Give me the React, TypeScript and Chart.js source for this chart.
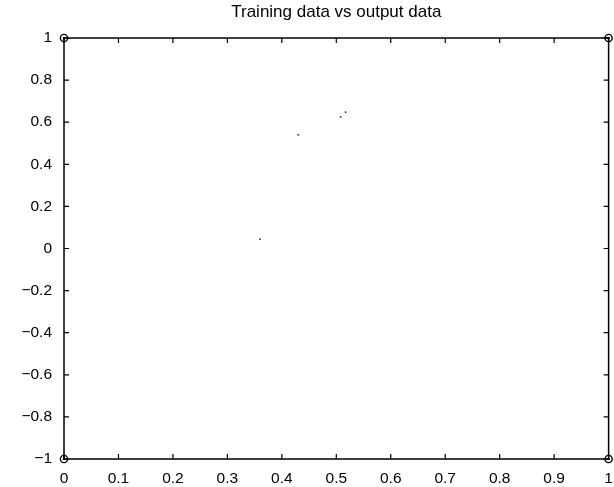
import React, { useEffect, useRef } from "react";
import { Chart, registerables } from "chart.js";

Chart.register(...registerables);

const titleText = "Training data vs output data";
const xTickValues = [0, 0.1, 0.2, 0.3, 0.4, 0.5, 0.6, 0.7, 0.8, 0.9, 1];
const xTickLabels = ["0", "0.1", "0.2", "0.3", "0.4", "0.5", "0.6", "0.7", "0.8", "0.9", "1"];
const yTickValues = [-1, -0.8, -0.6, -0.4, -0.2, 0, 0.2, 0.4, 0.6, 0.8, 1];
const yTickLabels = ["\u22121", "\u22120.8", "\u22120.6", "\u22120.4", "\u22120.2", "0", "0.2", "0.4", "0.6", "0.8", "1"];

const trainingX = [0, 1, 0, 1];
const trainingY = [1, 1, -1, -1];
const outputX = [0.36, 0.43, 0.508, 0.517];
const outputY = [0.045, 0.54, 0.625, 0.648];

const FONT = "'Liberation Sans', Arial, Helvetica, sans-serif";

const boxPlugin = {
  id: "matlabBox",
  afterDatasetsDraw(chart: any) {
    const { ctx, chartArea, scales } = chart;
    const { left, right, top, bottom } = chartArea;
    const tl = 5;
    ctx.save();
    ctx.strokeStyle = "#000";
    ctx.lineWidth = 1.5;
    ctx.strokeRect(left, top, right - left, bottom - top);
    ctx.lineWidth = 1.2;
    ctx.beginPath();
    xTickValues.forEach((v) => {
      const px = scales.x.getPixelForValue(v);
      ctx.moveTo(px, bottom);
      ctx.lineTo(px, bottom - tl);
      ctx.moveTo(px, top);
      ctx.lineTo(px, top + tl);
    });
    yTickValues.forEach((v) => {
      const py = scales.y.getPixelForValue(v);
      ctx.moveTo(left, py);
      ctx.lineTo(left + tl, py);
      ctx.moveTo(right, py);
      ctx.lineTo(right - tl, py);
    });
    ctx.stroke();
    ctx.restore();
  },
};

export default function App() {
  const ref = useRef<HTMLCanvasElement | null>(null);
  useEffect(() => {
    if (!ref.current) return;
    const chart = new Chart(ref.current, {
      type: "scatter",
      data: {
        datasets: [
          {
            label: "training",
            data: trainingX.map((x, i) => ({ x, y: trainingY[i] })),
            pointStyle: "circle",
            pointRadius: 3.6,
            pointBorderWidth: 1.4,
            borderColor: "#000",
            backgroundColor: "rgba(255,255,255,0)",
            clip: false,
          } as any,
          {
            label: "training centre",
            data: trainingX.map((x, i) => ({ x, y: trainingY[i] })),
            pointRadius: 1.3,
            pointBorderWidth: 0,
            borderColor: "#000",
            backgroundColor: "#000",
            clip: false,
          } as any,
          {
            label: "output",
            data: outputX.map((x, i) => ({ x, y: outputY[i] })),
            pointRadius: 0.9,
            pointBorderWidth: 0,
            borderColor: "#000",
            backgroundColor: "#222",
          },
        ],
      },
      options: {
        animation: false,
        responsive: false,
        maintainAspectRatio: false,
        layout: { padding: { left: 0, right: 4, top: 0, bottom: 0 } },
        plugins: {
          legend: { display: false },
          tooltip: { enabled: false },
          title: {
            display: true,
            fullSize: false,
            text: titleText,
            color: "#000",
            font: { family: FONT, size: 17, weight: "normal" },
            padding: { top: 2, bottom: 15.6 },
          },
        },
        scales: {
          x: {
            type: "linear",
            min: 0,
            max: 1,
            afterFit: (s: any) => {
              s.height = 28;
              s.paddingRight = 4;
              s.paddingLeft = 0;
            },
            afterBuildTicks: (s: any) => {
              s.ticks = xTickValues.map((v) => ({ value: v }));
            },
            grid: { display: false, drawTicks: false },
            border: { display: false },
            ticks: {
              color: "#000",
              padding: 10,
              maxRotation: 0,
              autoSkip: false,
              font: { family: FONT, size: 15.5 },
              callback: (v: any) => {
                const i = xTickValues.findIndex((t) => Math.abs(t - Number(v)) < 1e-6);
                return i >= 0 ? xTickLabels[i] : "";
              },
            },
          },
          y: {
            type: "linear",
            min: -1,
            max: 1,
            afterFit: (s: any) => {
              s.width = 64;
            },
            afterBuildTicks: (s: any) => {
              s.ticks = yTickValues.map((v) => ({ value: v }));
            },
            grid: { display: false, drawTicks: false },
            border: { display: false },
            ticks: {
              color: "#000",
              padding: 12,
              autoSkip: false,
              font: { family: FONT, size: 15.5 },
              callback: (v: any) => {
                const i = yTickValues.findIndex((t) => Math.abs(t - Number(v)) < 1e-6);
                return i >= 0 ? yTickLabels[i] : "";
              },
            },
          },
        },
      },
      plugins: [boxPlugin],
    });
    return () => chart.destroy();
  }, []);
  return (
    <div style={{ position: "fixed", left: 0, top: 0, width: 614, height: 487, background: "#fff" }}>
      <canvas ref={ref} width={614} height={487} style={{ display: "block", width: 614, height: 487 }} />
    </div>
  );
}
